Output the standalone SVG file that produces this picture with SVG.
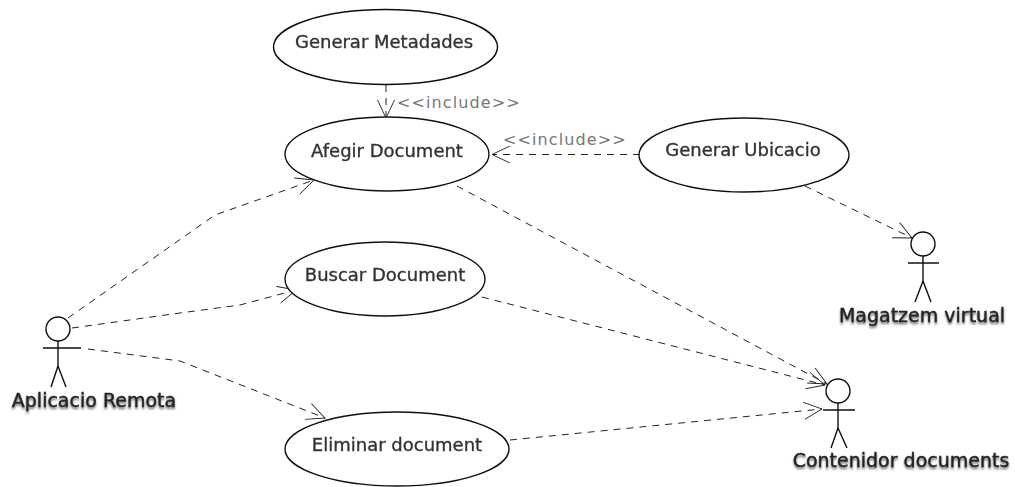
<svg xmlns="http://www.w3.org/2000/svg" width="1015" height="487" viewBox="0 0 1015 487">
<defs>
<filter id="glow" x="-10%" y="-30%" width="120%" height="170%"><feGaussianBlur in="SourceAlpha" stdDeviation="1.2"/><feOffset dx="0" dy="1.5"/><feComponentTransfer><feFuncA type="linear" slope="0.6"/></feComponentTransfer><feMerge><feMergeNode/><feMergeNode in="SourceGraphic"/></feMerge></filter>
<filter id="soft" x="-5%" y="-5%" width="110%" height="110%"><feGaussianBlur stdDeviation="0.35"/></filter>
<marker id="open" markerUnits="userSpaceOnUse" markerWidth="24" markerHeight="24" refX="20" refY="12" orient="auto"><path d="M2 3.500 L20 12 L2 20.500" fill="none" stroke="#222" stroke-width="0.9"/></marker>
</defs>
<style>
.uc{fill:#fff;stroke:#111;stroke-width:1.4}
.t{font-family:"DejaVu Sans",sans-serif;font-size:18px;fill:#333;stroke:#333;stroke-width:.35px;text-anchor:middle}
.a{font-family:"DejaVu Sans",sans-serif;font-size:19px;fill:#222;stroke:#222;stroke-width:.35px;text-anchor:middle;filter:url(#glow)}
.i{font-family:"DejaVu Sans",sans-serif;font-size:16px;fill:#777;letter-spacing:1.1px}
.d{fill:none;stroke:#222;stroke-width:1;stroke-dasharray:7 6;marker-end:url(#open)}
.s{fill:none;stroke:#111;stroke-width:1.4}
</style>
<g id="connectors" filter="url(#soft)">
<path class="d" d="M386 85V118"/>
<path class="d" d="M640 154.500H492"/>
<path class="d" d="M68 318L215 215L314 180"/>
<path class="d" d="M72 328L180 313L240 305L296 290"/>
<path class="d" d="M88 349L180 361L325 418"/>
<path class="d" d="M805 186L912 238"/>
<path class="d" d="M457 186L827 384"/>
<path class="d" d="M482 297L825 385"/>
<path class="d" d="M510 440L822 409"/>
</g>
<g id="uc-metadades" filter="url(#soft)"><ellipse class="uc" cx="385.500" cy="47" rx="112" ry="37.500"/><text class="t" x="384" y="48">Generar Metadades</text></g>
<g id="uc-afegir" filter="url(#soft)"><ellipse class="uc" cx="387" cy="154" rx="102" ry="37"/><text class="t" x="387" y="157">Afegir Document</text></g>
<g id="uc-ubicacio" filter="url(#soft)"><ellipse class="uc" cx="744" cy="155" rx="105" ry="37"/><text class="t" x="743" y="156">Generar Ubicacio</text></g>
<g id="uc-buscar" filter="url(#soft)"><ellipse class="uc" cx="385" cy="279" rx="100" ry="37"/><text class="t" x="385" y="281">Buscar Document</text></g>
<g id="uc-eliminar" filter="url(#soft)"><ellipse class="uc" cx="397" cy="449" rx="112" ry="37"/><text class="t" x="397" y="451">Eliminar document</text></g>
<text class="i" x="397" y="108">&lt;&lt;include&gt;&gt;</text>
<text class="i" x="503" y="145">&lt;&lt;include&gt;&gt;</text>
<g id="actor-remota" filter="url(#soft)"><circle class="s" cx="58" cy="329" r="12"/><path class="s" d="M58 341V366M43 348H81M58 366L51 387M58 366L66 387"/><text class="a" x="94" y="407">Aplicacio Remota</text></g>
<g id="actor-magatzem" filter="url(#soft)"><circle class="s" cx="923" cy="244" r="12"/><path class="s" d="M923 256V281M908 263H939M923 281L915 302M923 281L931 302"/><text class="a" x="922" y="322">Magatzem virtual</text></g>
<g id="actor-contenidor" filter="url(#soft)"><circle class="s" cx="838" cy="391" r="12"/><path class="s" d="M838 403V428M823 410H855M838 428L831 448M838 428L847 448"/><text class="a" x="901" y="467">Contenidor documents</text></g>
</svg>
